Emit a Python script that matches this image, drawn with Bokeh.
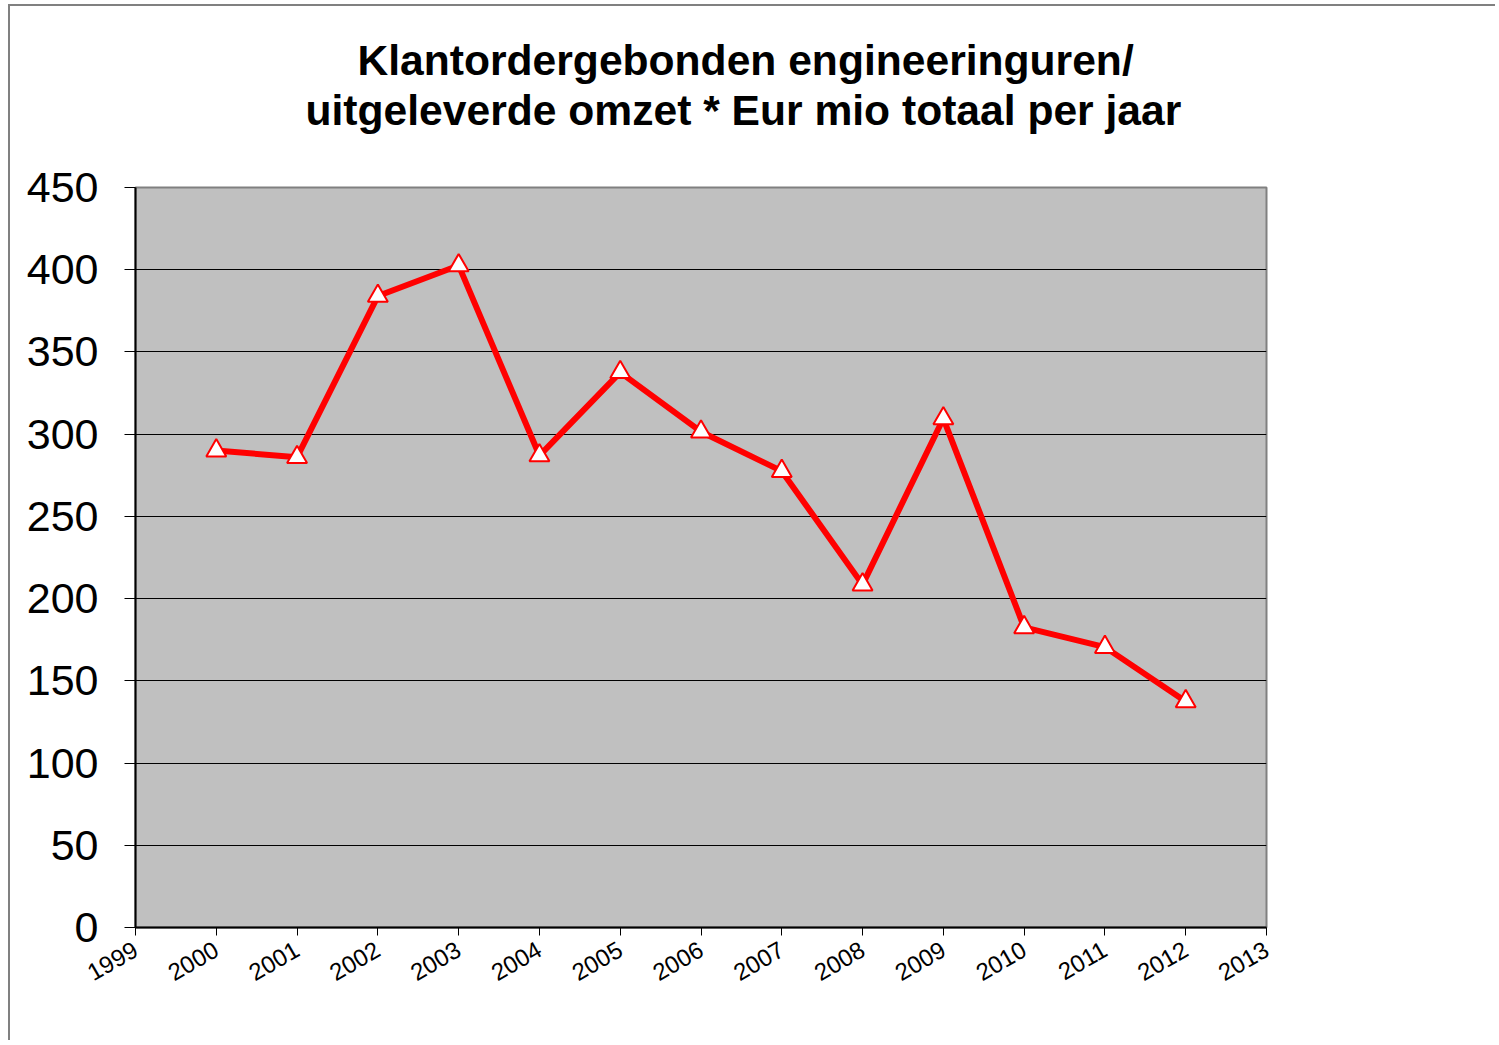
from math import pi
from bokeh.plotting import figure
from bokeh.models import FixedTicker, Title, Range1d
from bokeh.embed import file_html
from bokeh.resources import INLINE

years = [2000, 2001, 2002, 2003, 2004, 2005, 2006, 2007, 2008, 2009, 2010, 2011, 2012]
values = [290, 286, 384, 402.6, 287, 337.6, 301.5, 277.5, 208.5, 309.5, 182.5, 170.5, 137.5]
x_ticks = list(range(1999, 2014))
y_ticks = list(range(0, 451, 50))
title_line1 = "Klantordergebonden engineeringuren/"
title_line2 = "uitgeleverde omzet * Eur mio totaal per jaar"

FONT = "Liberation Sans"

p = figure(width=1487, height=1036, output_backend="svg", toolbar_location=None,
           x_range=Range1d(1999, 2013), y_range=Range1d(0, 450),
           min_border_left=125, min_border_right=231, min_border_top=181, min_border_bottom=115)
p.styles = {"margin-left": "8px", "margin-top": "4px",
            "border-left": "2px solid #808080", "border-top": "2px solid #808080"}

p.background_fill_color = "#C0C0C0"
p.border_fill_color = "white"
p.outline_line_color = "#808080"
p.outline_line_width = 2

# Titles (later added = farther from frame)
spacer = Title(text=" ", text_font=FONT, text_font_size="46px", standoff=0)
t2 = Title(text=title_line2, align="left", offset=170, text_font=FONT, text_font_size="42.6px",
           text_font_style="bold", text_color="black", standoff=0)
t1 = Title(text=title_line1, align="left", offset=222, text_font=FONT, text_font_size="42.6px",
           text_font_style="bold", text_color="black", standoff=0)
p.add_layout(spacer, "above")
p.add_layout(t2, "above")
p.add_layout(t1, "above")

p.xgrid.grid_line_color = None
p.ygrid.ticker = FixedTicker(ticks=y_ticks)
p.ygrid.grid_line_color = "black"
p.ygrid.grid_line_width = 1

p.xaxis.ticker = FixedTicker(ticks=x_ticks)
p.xaxis.major_label_orientation = pi / 6
p.xaxis.major_label_text_font = FONT
p.xaxis.major_label_text_font_size = "24px"
p.xaxis.major_label_text_color = "black"
p.xaxis.major_tick_in = 0
p.xaxis.major_tick_out = 8
p.xaxis.minor_tick_out = 0
p.xaxis.minor_tick_in = 0
p.xaxis.major_label_standoff = 12
p.xaxis.axis_line_color = "black"
p.xaxis.axis_line_width = 2
p.xaxis.major_tick_line_color = "black"

p.yaxis.ticker = FixedTicker(ticks=y_ticks)
p.yaxis.major_label_text_font = FONT
p.yaxis.major_label_text_font_size = "43px"
p.yaxis.major_label_text_color = "black"
p.yaxis.major_tick_in = 0
p.yaxis.major_tick_out = 11
p.yaxis.minor_tick_out = 0
p.yaxis.minor_tick_in = 0
p.yaxis.major_label_standoff = 26
p.yaxis.axis_line_color = "black"
p.yaxis.axis_line_width = 2
p.yaxis.major_tick_line_color = "black"

p.line(years, values, line_color="#FF0000", line_width=6)
p.scatter(years, values, marker="triangle", size=20, fill_color="white",
          line_color="#FF0000", line_width=2)

open("out.html", "w").write(file_html(p, INLINE))
